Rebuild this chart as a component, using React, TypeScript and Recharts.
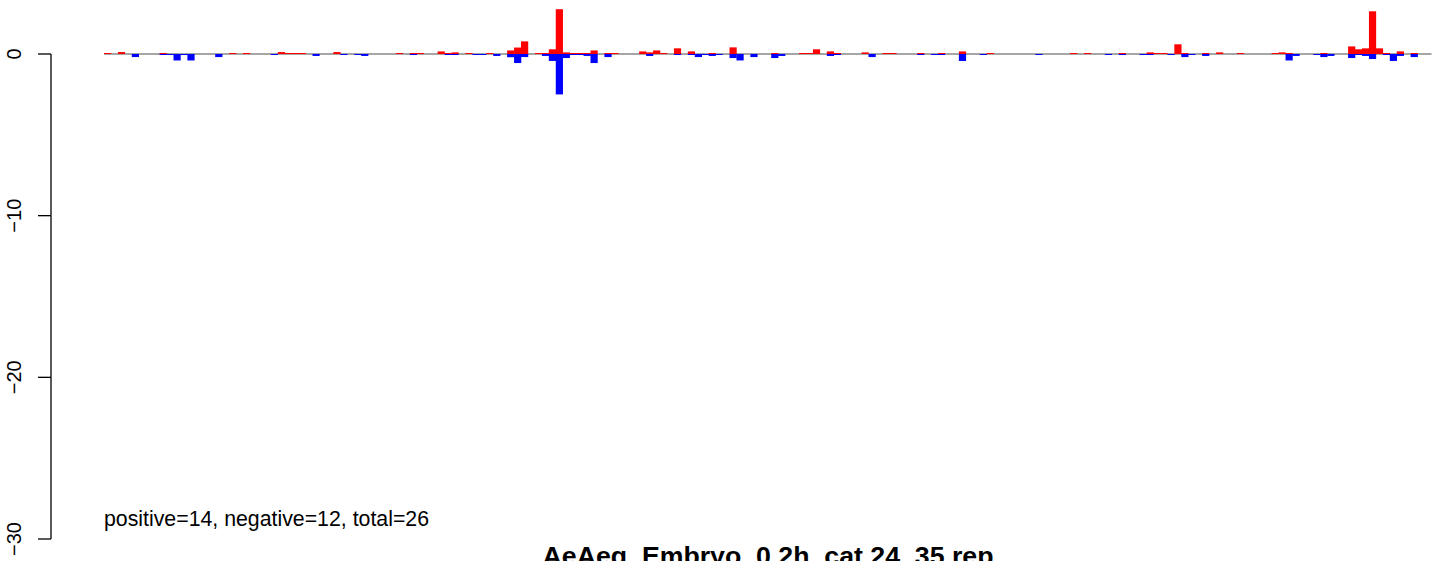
import React from 'react';
import { BarChart, Bar, XAxis, YAxis, ReferenceLine } from 'recharts';

// one slot per position, red = positive score, blue = negative score
const positive = [
  0.06, 0, 0.12, 0, 0, 0, 0, 0, 0.06, 0,
  0, 0, 0, 0, 0, 0, 0, 0, 0.06, 0,
  0.06, 0, 0, 0, 0, 0.12, 0.05, 0.05, 0.05, 0,
  0, 0, 0, 0.12, 0, 0, 0, 0, 0, 0,
  0, 0, 0.05, 0, 0.05, 0.05, 0, 0, 0.16, 0.03,
  0.1, 0, 0.05, 0, 0, 0.05, 0, 0, 0.22, 0.4,
  0.78, 0, 0.05, 0.03, 0.29, 2.77, 0.1, 0.05, 0.05, 0.05,
  0.22, 0, 0.05, 0.05, 0, 0, 0, 0.16, 0.1, 0.22,
  0.05, 0, 0.35, 0, 0.16, 0, 0, 0.05, 0, 0,
  0.41, 0, 0, 0, 0, 0, 0.05, 0, 0, 0,
  0.05, 0.05, 0.29, 0, 0.16, 0.05, 0, 0, 0, 0.1,
  0, 0, 0.05, 0.05, 0, 0, 0, 0.05, 0, 0,
  0.05, 0, 0, 0.16, 0, 0, 0, 0.05, 0, 0,
  0, 0, 0, 0, 0, 0, 0, 0, 0, 0.05,
  0, 0.05, 0, 0, 0, 0, 0.05, 0, 0, 0,
  0.1, 0.05, 0.05, 0, 0.6, 0.05, 0, 0, 0.05, 0,
  0.1, 0, 0, 0.05, 0, 0, 0, 0, 0.05, 0.1,
  0.05, 0, 0, 0, 0, 0.05, 0, 0, 0, 0.47,
  0.29, 0.35, 2.64, 0.35, 0.05, 0, 0.16, 0, 0.05, 0,
  0,
];

const negative = [
  0, 0, 0, 0, -0.19, 0, 0, 0, -0.05, -0.05,
  -0.4, -0.05, -0.4, 0, 0, 0, -0.19, 0, 0, 0,
  0, 0, 0, 0, -0.05, 0, 0, 0, 0, 0,
  -0.12, 0, 0, 0, -0.05, 0, -0.05, -0.12, 0, 0,
  0, 0, 0, 0, -0.05, 0, 0, 0, 0, -0.06,
  -0.05, 0, 0, -0.05, -0.05, 0, -0.12, 0, -0.2, -0.56,
  -0.19, 0, 0, -0.12, -0.43, -2.5, -0.25, -0.05, -0.05, -0.12,
  -0.56, 0, -0.19, 0, 0, 0, 0, 0, -0.12, 0,
  0, 0, -0.05, 0, -0.05, -0.19, -0.05, -0.12, -0.05, 0,
  -0.25, -0.4, 0, -0.19, 0, 0, -0.25, -0.12, 0, 0,
  0, 0, 0, 0, -0.12, -0.05, 0, 0, 0, 0,
  -0.19, 0, 0, 0, 0, 0, 0, -0.05, 0, -0.05,
  -0.05, 0, 0, -0.43, 0, 0, -0.05, 0, 0, 0,
  0, 0, 0, 0, -0.05, 0, 0, 0, 0, 0,
  0, 0, 0, 0, -0.05, 0, -0.05, 0, 0, -0.05,
  -0.05, 0, 0, -0.05, 0, -0.19, -0.05, 0, -0.12, 0,
  0, 0, 0, 0, 0, 0, 0, 0, 0, 0,
  -0.4, -0.12, 0, 0, -0.05, -0.19, -0.12, 0, 0, -0.25,
  -0.05, -0.12, -0.31, 0, -0.05, -0.43, -0.12, 0, -0.19, 0,
  0,
];

const yTicks = [-30, -20, -10, 0];
const yDomain = [-30, 3.34];

const summary = 'positive=14, negative=12, total=26';
const title = 'AeAeg_Embryo_0.2h_cat 24_35 rep';

const W = 1444;
const H = 561;
const MARGIN = { top: 0, right: 12.5, bottom: 22, left: 0 };
const Y_AXIS_W = 104;
const PLOT_W = W - MARGIN.left - MARGIN.right - Y_AXIS_W;
const PLOT_H = H - MARGIN.top - MARGIN.bottom;
const BAND = PLOT_W / positive.length;
const PX_PER_UNIT = PLOT_H / (yDomain[1] - yDomain[0]);
const AXIS_X = 51;
const FONT = '"Liberation Sans", Arial, Helvetica, sans-serif';

const data = positive.map((p, i) => ({ idx: i + 1, pos: p, neg: negative[i] }));

// R-style left axis: line spans only first..last tick, labels rotated
const AxisTick = (props: any) => {
  const { y, payload } = props;
  const v = payload.value as number;
  const label = v < 0 ? `\u2212${Math.abs(v)}` : `${v}`;
  return (
    <g>
      <line x1={AXIS_X - 13} x2={AXIS_X} y1={y} y2={y} stroke="#000" strokeWidth={1.3} />
      {v < 0 && (
        <line x1={AXIS_X} x2={AXIS_X} y1={y} y2={y - 10 * PX_PER_UNIT} stroke="#000" strokeWidth={1.3} />
      )}
      <text
        x={14}
        y={y}
        transform={`rotate(-90, 14, ${y})`}
        textAnchor="middle"
        dominantBaseline="central"
        fontSize={20}
        fontFamily={FONT}
        fill="#000"
      >
        {label}
      </text>
    </g>
  );
};

// bars fill the whole slot like barplot(space = 0)
const SlotBar = (props: any) => {
  const { x, y, width, height, fill } = props;
  if (!height) return null;
  const top = height < 0 ? y + height : y;
  const h = Math.max(Math.abs(height), 1);
  return <rect x={x} y={height < 0 ? top : top + Math.abs(height) - h} width={Math.max(width, BAND) + 0.2} height={h} fill={fill} />;
};

export default function App() {
  return (
    <div style={{ position: 'relative', width: W, height: H, overflow: 'hidden', background: '#fff', fontFamily: FONT }}>
      <style>{'body{margin:0}'}</style>
      <BarChart
        width={W}
        height={H}
        data={data}
        margin={MARGIN}
        stackOffset="sign"
        barCategoryGap={0}
        barGap={0}
      >
        <XAxis dataKey="idx" hide />
        <YAxis
          width={Y_AXIS_W}
          domain={yDomain}
          ticks={yTicks}
          interval={0}
          allowDataOverflow
          axisLine={false}
          tickLine={false}
          tickSize={0}
          tick={<AxisTick />}
        />
        <ReferenceLine y={0} stroke="#a6a6a6" strokeWidth={2} zIndex={0} />
        <Bar dataKey="pos" stackId="s" fill="#ff0000" shape={<SlotBar />} isAnimationActive={false} />
        <Bar dataKey="neg" stackId="s" fill="#0000ff" shape={<SlotBar />} isAnimationActive={false} />
      </BarChart>
      <div style={{ position: 'absolute', left: 104, top: 509, fontSize: 21.3, lineHeight: 1, whiteSpace: 'nowrap' }}>
        {summary}
      </div>
      <div
        style={{
          position: 'absolute',
          left: 0,
          width: 1536,
          top: 542.5,
          textAlign: 'center',
          fontSize: 26.7,
          fontWeight: 'bold',
          lineHeight: 1,
          whiteSpace: 'nowrap',
        }}
      >
        {title}
      </div>
    </div>
  );
}
